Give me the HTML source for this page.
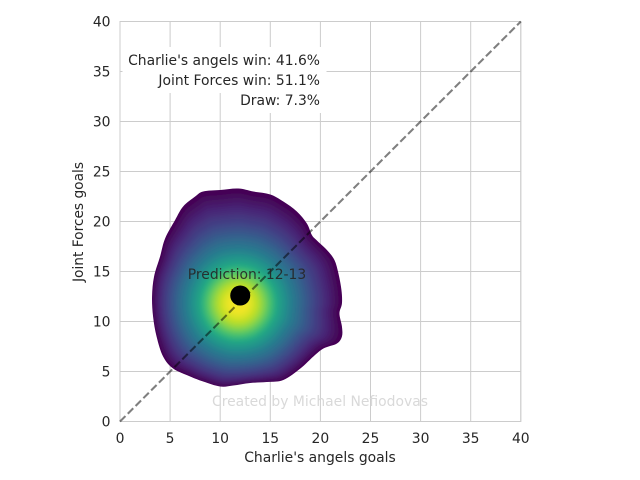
<!DOCTYPE html>
<html>
<head>
<meta charset="utf-8">
<style>
html,body{margin:0;padding:0;background:#fff;}
svg{display:block;font-family:"DejaVu Sans","Liberation Sans",sans-serif;font-size:13.9px;}
text{fill:#262626;}
</style>
</head>
<body>
<svg id="chart" width="640" height="480" viewBox="0 0 640 480" xmlns="http://www.w3.org/2000/svg">
  <defs>
    <filter id="soften" x="-10%" y="-10%" width="120%" height="120%"><feGaussianBlur stdDeviation="2"/></filter>
    <clipPath id="blob-clip"><path id="blob-clip-path" d=""/></clipPath>
  </defs>
  <g id="grid"></g>
  <g id="blob" clip-path="url(#blob-clip)"><g id="rings" filter="url(#soften)"></g></g>
  <g id="frame"></g>
  <g id="marks"></g>
  <g id="labels"></g>
  <text x="320" y="462" text-anchor="middle">Charlie's angels goals</text>
  <text transform="translate(83,222) rotate(-90)" text-anchor="middle" textLength="120" lengthAdjust="spacingAndGlyphs">Joint Forces goals</text>
  <g>
    <rect x="122.5" y="47" width="204" height="26" fill="#fff"/>
    <rect x="153" y="67" width="173.5" height="26" fill="#fff"/>
    <rect x="235" y="87" width="91.5" height="26" fill="#fff"/>
    <text x="320" y="65" text-anchor="end">Charlie's angels win: 41.6%</text>
    <text x="320" y="85" text-anchor="end">Joint Forces win: 51.1%</text>
    <text x="320" y="105" text-anchor="end">Draw: 7.3%</text>
  </g>
  <text x="247" y="279" text-anchor="middle" style="fill:#262626;fill-opacity:.9">Prediction: 12-13</text>
  <text x="320" y="406" text-anchor="middle" style="fill:#d9d9d9">Created by Michael Nefiodovas</text>
</svg>
<script>
const xTicks = [0, 5, 10, 15, 20, 25, 30, 35, 40];
const yTicks = [0, 5, 10, 15, 20, 25, 30, 35, 40];
const outlineX = [11.8,13.3,15.0,16.3,17.65,18.65,19.15,19.65,20.65,21.4,21.8,22.1,22.15,21.9,22.15,22.15,21.65,20.3,19.3,18.0,16.3,14.65,13.0,11.3,10.0,8.3,7.0,5.3,4.3,3.65,3.3,3.2,3.4,4.0,4.5,5.5,6.3,7.5,8.3,10.0];
const outlineY = [23.3,23.0,22.7,22.0,21.0,19.8,18.65,18.1,17.15,16.15,14.8,13.15,11.8,10.8,9.5,8.5,7.8,7.3,6.5,5.3,4.15,3.95,3.85,3.6,3.5,4.0,4.5,5.3,6.5,8.5,10.5,12.5,14.5,16.5,18.3,20.15,21.5,22.5,23.0,23.15];
const peakX = 11.8;
const peakY = 11.8;
const ringReach = [1,.97,.94,.91,.88,.85,.82,.79,.76,.73,.70,.67,.64,.61,.58,.55,.52,.49,.46,.43,.40,.37,.34,.31,.28,.25,.22,.19,.16,.13,.10];
const ringDensity = [0,.02,.05,.08,.11,.13,.16,.18,.21,.24,.27,.3,.33,.36,.39,.42,.45,.49,.52,.56,.6,.65,.7,.75,.8,.84,.88,.91,.94,.96,.98];
const predictionX = 12;
const predictionY = 12.6;
const diagonalStart = 0;
const diagonalEnd = 40;

const viridis = ['#440154','#482475','#414487','#355f8d','#2a788e','#21918c','#22a884','#44bf70','#7ad151','#bddf26','#fde725'];
const NS = 'http://www.w3.org/2000/svg';
const xAxis = v => 120 + v * 10.02;
const yAxis = v => 421.5 - v * 10;

function hexToRgb(h) {
  return [parseInt(h.slice(1,3),16), parseInt(h.slice(3,5),16), parseInt(h.slice(5,7),16)];
}
function colour(t) {
  const p = Math.max(0, Math.min(1, t)) * (viridis.length - 1);
  const i = Math.min(Math.floor(p), viridis.length - 2);
  const a = hexToRgb(viridis[i]), b = hexToRgb(viridis[i + 1]), f = p - i;
  return 'rgb(' + a.map((c, k) => Math.round(c + (b[k] - c) * f)).join(',') + ')';
}
function make(tag, attrs, parent) {
  const el = document.createElementNS(NS, tag);
  for (const k in attrs) el.setAttribute(k, attrs[k]);
  parent.appendChild(el);
  return el;
}
function meanRadius() {
  let total = 0;
  outlineX.forEach((x, i) => { total += Math.hypot(x - peakX, outlineY[i] - peakY); });
  return total / outlineX.length;
}
function ringPath(reach) {
  const mean = meanRadius();
  const w = Math.pow(Math.min(reach, 1), 3);
  const pts = outlineX.map((x, i) => {
    const dx = x - peakX, dy = outlineY[i] - peakY, d = Math.hypot(dx, dy);
    const r = reach * (d * w + mean * (1 - w));
    return [xAxis(peakX + dx / d * r), yAxis(peakY + dy / d * r)];
  });
  const n = pts.length;
  let path = 'M' + pts[0][0].toFixed(2) + ' ' + pts[0][1].toFixed(2);
  for (let i = 0; i < n; i++) {
    const p0 = pts[(i - 1 + n) % n], p1 = pts[i], p2 = pts[(i + 1) % n], p3 = pts[(i + 2) % n];
    const c1 = [p1[0] + (p2[0] - p0[0]) / 6, p1[1] + (p2[1] - p0[1]) / 6];
    const c2 = [p2[0] - (p3[0] - p1[0]) / 6, p2[1] - (p3[1] - p1[1]) / 6];
    path += 'C' + c1[0].toFixed(2) + ' ' + c1[1].toFixed(2) + ' ' + c2[0].toFixed(2) + ' ' + c2[1].toFixed(2) + ' ' + p2[0].toFixed(2) + ' ' + p2[1].toFixed(2);
  }
  return path + 'Z';
}

const grid = document.getElementById('grid');
xTicks.forEach(v => {
  const line = make('line', {x1:xAxis(v), x2:xAxis(v), y1:yAxis(0), y2:yAxis(40), stroke:'#cccccc', 'stroke-width':1}, grid);
  
  
});
yTicks.forEach(v => {
  const line = make('line', {x1:xAxis(0), x2:xAxis(40), y1:yAxis(v), y2:yAxis(v), stroke:'#cccccc', 'stroke-width':1}, grid);
  
  
});

document.getElementById('blob-clip-path').setAttribute('d', ringPath(1));
const rings = document.getElementById('rings');
ringReach.forEach((reach, i) => {
  const ring = make('path', {d:ringPath(i === 0 ? 1.08 : reach), fill:colour(ringDensity[i])}, rings);
  
  
});

const frame = document.getElementById('frame');
const box = make('rect', {x:xAxis(0), y:yAxis(40), width:xAxis(40)-xAxis(0), height:yAxis(0)-yAxis(40), fill:'none', stroke:'#cccccc', 'stroke-width':1}, frame);



const marks = document.getElementById('marks');
const diag = make('line', {x1:xAxis(diagonalStart), y1:yAxis(diagonalStart), x2:xAxis(diagonalEnd), y2:yAxis(diagonalEnd), stroke:'#000', 'stroke-opacity':.5, 'stroke-width':2.08, 'stroke-dasharray':'7.7 3.3'}, marks);


const dot = make('circle', {cx:xAxis(predictionX), cy:yAxis(predictionY), r:10, fill:'#000'}, marks);



const labels = document.getElementById('labels');
xTicks.forEach(v => {
  const t = make('text', {x:xAxis(v), y:443, 'text-anchor':'middle'}, labels);
  t.textContent = v;
  
  
});
yTicks.forEach(v => {
  const t = make('text', {x:110.5, y:yAxis(v) + 5, 'text-anchor':'end'}, labels);
  t.textContent = v;
  
  
});
</script>
</body>
</html>
